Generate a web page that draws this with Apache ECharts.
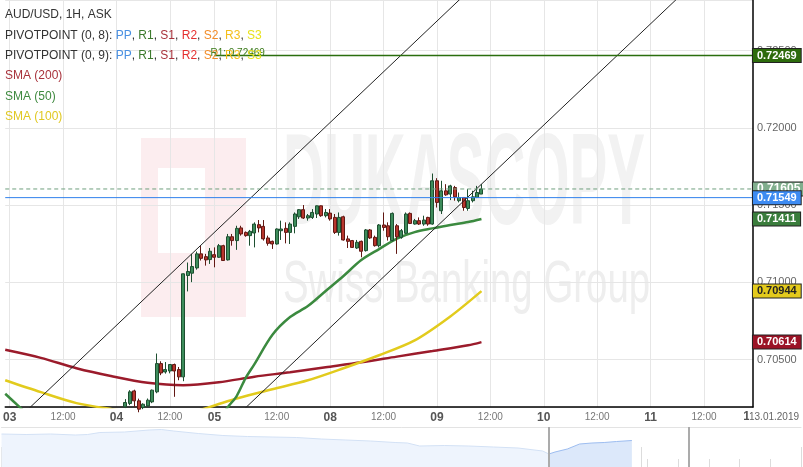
<!DOCTYPE html>
<html><head><meta charset="utf-8">
<script src="https://cdn.jsdelivr.net/npm/echarts@6/dist/echarts.min.js"></script>
<style>html,body{margin:0;padding:0;background:#fff}#c{width:803px;height:467px}</style>
</head><body><div id="c"></div>
<script>
const FONT = '"Liberation Sans", Arial, sans-serif';

// ---- DATA ----
// hourly slots on the time axis (index 0 = last hour of 02.01)
const slotCount = 169;
const dayTicks = [[1,'03'],[25,'04'],[47,'05'],[73,'08'],[97,'09'],[121,'10'],[145,'11']];
const noonTicks = [13,37,61,85,109,133,157];

// visible hourly candles [open, high, low, close], first one at slot 27
const firstCandle = 27;
const candles = [
[0.70195,0.70245,0.70187,0.70223],[0.70217,0.70303,0.70206,0.70292],[0.70298,0.70306,0.70195,0.70234],
[0.70234,0.70248,0.70160,0.70180],[0.70190,0.70218,0.70180,0.70212],[0.70201,0.70249,0.70195,0.70238],
[0.70227,0.70307,0.70219,0.70303],[0.70292,0.70540,0.70283,0.70475],[0.70475,0.70490,0.70400,0.70414],
[0.70421,0.70485,0.70410,0.70436],[0.70427,0.70471,0.70412,0.70469],[0.70469,0.70475,0.70260,0.70427],
[0.70436,0.70453,0.70367,0.70389],[0.70389,0.71058,0.70361,0.71056],[0.71045,0.71129,0.70942,0.71071],
[0.71060,0.71185,0.71002,0.71103],[0.71094,0.71200,0.71083,0.71185],[0.71185,0.71238,0.71142,0.71156],
[0.71167,0.71185,0.71109,0.71146],[0.71148,0.71223,0.71120,0.71202],[0.71180,0.71227,0.71098,0.71163],
[0.71163,0.71249,0.71159,0.71238],[0.71238,0.71244,0.71140,0.71142],[0.71146,0.71314,0.71142,0.71296],
[0.71296,0.71314,0.71238,0.71271],[0.71271,0.71367,0.71211,0.71350],[0.71353,0.71367,0.71303,0.71314],
[0.71324,0.71330,0.71296,0.71303],[0.71303,0.71340,0.71238,0.71331],[0.71320,0.71389,0.71227,0.71378],
[0.71374,0.71404,0.71324,0.71353],[0.71363,0.71404,0.71271,0.71282],[0.71288,0.71303,0.71238,0.71253],
[0.71266,0.71271,0.71217,0.71249],[0.71249,0.71350,0.71245,0.71346],[0.71335,0.71400,0.71275,0.71346],
[0.71350,0.71389,0.71253,0.71324],[0.71324,0.71389,0.71249,0.71378],[0.71363,0.71453,0.71318,0.71443],
[0.71425,0.71475,0.71411,0.71471],[0.71471,0.71501,0.71411,0.71417],[0.71417,0.71443,0.71400,0.71432],
[0.71421,0.71475,0.71411,0.71453],[0.71443,0.71498,0.71417,0.71496],[0.71496,0.71498,0.71425,0.71432],
[0.71432,0.71475,0.71421,0.71453],[0.71449,0.71475,0.71400,0.71411],[0.71421,0.71443,0.71314,0.71324],
[0.71324,0.71453,0.71303,0.71421],[0.71425,0.71432,0.71271,0.71275],[0.71282,0.71303,0.71223,0.71266],
[0.71271,0.71275,0.71223,0.71227],[0.71223,0.71275,0.71217,0.71260],[0.71266,0.71271,0.71163,0.71202],
[0.71206,0.71346,0.71200,0.71340],[0.71340,0.71346,0.71282,0.71288],[0.71292,0.71303,0.71232,0.71238],
[0.71238,0.71378,0.71227,0.71372],[0.71372,0.71453,0.71335,0.71356],[0.71367,0.71389,0.71271,0.71296],
[0.71271,0.71453,0.71266,0.71447],[0.71367,0.71378,0.71185,0.71296],[0.71292,0.71346,0.71283,0.71335],
[0.71318,0.71453,0.71314,0.71443],[0.71447,0.71453,0.71378,0.71382],[0.71378,0.71411,0.71374,0.71400],
[0.71400,0.71421,0.71372,0.71378],[0.71378,0.71432,0.71367,0.71404],[0.71421,0.71425,0.71367,0.71378],
[0.71378,0.71705,0.71374,0.71658],[0.71658,0.71675,0.71485,0.71518],[0.71464,0.71658,0.71443,0.71593],
[0.71593,0.71636,0.71561,0.71567],[0.71572,0.71632,0.71533,0.71625],[0.71614,0.71625,0.71529,0.71554],
[0.71529,0.71582,0.71518,0.71550],[0.71550,0.71550,0.71464,0.71485],[0.71479,0.71604,0.71464,0.71529],
[0.71529,0.71593,0.71518,0.71554],[0.71550,0.71625,0.71546,0.71582],[0.71572,0.71636,0.71572,0.71605]
];

// moving averages [slot, value]
const sma200 = [[0,0.70564],[8,0.70512],[16,0.70445],[24,0.70393],[32,0.70351],[40,0.70335],[48,0.70354],
  [56,0.70390],[64,0.70419],[72,0.70451],[80,0.70483],[88,0.70520],[96,0.70556],[104,0.70593],[107,0.70614]];
const sma100 = [[0,0.70367],[8,0.70290],[16,0.70219],[24,0.70180],[32,0.70150],[40,0.70150],[46,0.70195],
  [52,0.70249],[60,0.70309],[68,0.70367],[76,0.70445],[84,0.70529],[92,0.70625],[100,0.70780],[107,0.70944]];
const sma50 = [[0,0.70280],[3,0.70200],[6,0.70120],[12,0.70000],[44,0.70000],[48,0.70110],[50,0.70193],
  [52,0.70265],[54,0.70381],[56,0.70472],[60,0.70660],[64,0.70776],[68,0.70847],[72,0.70945],[76,0.71042],
  [80,0.71145],[84,0.71216],[88,0.71284],[92,0.71326],[96,0.71350],[100,0.71372],[104,0.71391],[107,0.71411]];

// channel lines [slot, price]
const channelUpper = [[0,0.70039],[110,0.73047]];
const channelLower = [[48,0.70025],[168,0.73302]];

// levels
const pivotR1 = 0.72469, pivotR1Start = 47;
const pivotPP = 0.71549;
const lastPrice = 0.71605;
const priceMin = 0.70194, priceMax = 0.72828;

// navigator overview [position, price]
const navBase = [[0,0.712],[4,0.710],[8,0.712],[12,0.708],[14,0.710],[16,0.718],[20,0.720],[24,0.728],[26,0.730],
  [28,0.724],[32,0.714],[36,0.706],[40,0.702],[44,0.700],[48,0.698],[52,0.692],[56,0.688],[60,0.684],[64,0.678],
  [66,0.676],[68,0.664],[72,0.666],[76,0.664],[80,0.660],[84,0.656],[88,0.644],[89,0.632]];
const navSel = [[89,0.632],[90,0.640],[92,0.652],[94,0.672],[96,0.676],[98,0.678],[100,0.682],[102.5,0.686]];
const navWeekSplits = [89, 111.8];

// ---- CHART ----
const cats = Array.from({length: slotCount}, (_, i) => 'h' + i);
const tickMap = {};
dayTicks.forEach(([i, t]) => tickMap[i] = '{d|' + t + '}');
noonTicks.forEach(i => tickMap[i] = '{n|12:00}');
const isTick = (i) => tickMap[i] !== undefined;
const lastSlot = slotCount - 1;

function tag(value, bg, fg, fs) {
  return {yAxis: value, lineStyle: {color: 'transparent', width: 0},
    label: {show: true, position: 'end', distance: 0, formatter: value.toFixed(5),
      backgroundColor: bg, color: fg, borderColor: '#222', borderWidth: 1,
      padding: [1, 4, 0, 4], fontSize: fs || 11, fontWeight: 'bold', fontFamily: FONT, lineHeight: 12}};
}
function level(value, from, color, type, width) {
  return {type: 'line', data: [[from, value], [lastSlot, value]], showSymbol: false, z: 5,
    lineStyle: {color: color, type: type, width: width}};
}
const last = a => a[a.length - 1][1];
function legendRich() {
  const mk = c => ({fill: c, fontSize: 12, fontFamily: FONT});
  return {t: mk('#333'), pp: mk('#4a90e2'), r1: mk('#3c7a2c'), s1: mk('#a8323b'), r2: mk('#e53030'),
          s2: mk('#f28c28'), r3: mk('#f4be1a'), s3: mk('#e8e21c')};
}

const chart = echarts.init(document.getElementById('c'), null, {renderer: 'canvas'});
chart.setOption({
  animation: false,
  backgroundColor: '#fff',
  textStyle: {fontFamily: FONT},
  grid: [
    {left: -1.2, top: 0, width: 754.15, height: 407},
    {left: 1.5, top: 427, width: 799.5, height: 40}
  ],
  xAxis: [
    {type: 'category', gridIndex: 0, data: cats, boundaryGap: false,
     axisLine: {lineStyle: {color: '#000', width: 1.5}}, axisTick: {show: false},
     axisLabel: {interval: isTick, formatter: (v, i) => tickMap[i] || '', margin: 5,
       rich: {d: {fontSize: 12, fontWeight: 'bold', color: '#555', fontFamily: FONT},
              n: {fontSize: 10, color: '#777', fontFamily: FONT}}},
     splitLine: {show: true, interval: isTick, lineStyle: {color: '#e6e6e6', width: 1}}},
    {type: 'value', gridIndex: 1, min: 0, max: 130, position: 'top',
     axisLine: {show: true, lineStyle: {color: '#e3e3e3'}}, axisTick: {show: false}, axisLabel: {show: false}, splitLine: {show: false}},
    {type: 'value', gridIndex: 1, min: 0, max: 130, interval: 5, position: 'bottom',
     axisLine: {show: false}, axisTick: {show: true, inside: true, length: 8, lineStyle: {color: '#dcdcdc'}},
     axisLabel: {show: false}, splitLine: {show: false}},
    {type: 'value', gridIndex: 1, min: 0, max: 125, interval: 25, position: 'bottom',
     axisLine: {show: false}, axisTick: {show: true, inside: true, length: 20, lineStyle: {color: '#dcdcdc'}},
     axisLabel: {show: false}, splitLine: {show: false}}
  ],
  yAxis: [
    {type: 'value', gridIndex: 0, position: 'right', min: priceMin, max: priceMax, splitNumber: 5,
     axisLine: {show: true, lineStyle: {color: '#000', width: 1.5}}, axisTick: {show: false},
     axisLabel: {formatter: v => v.toFixed(5), color: '#666', fontSize: 11, margin: 4,
       showMinLabel: false, showMaxLabel: false, fontFamily: FONT},
     splitLine: {lineStyle: {color: '#e6e6e6'}}},
    {type: 'value', gridIndex: 1, min: 0.58, max: 0.74, show: false}
  ],
  series: [
    {type: 'line', name: 'SMA (200)', data: sma200, showSymbol: false, smooth: 0.3, z: 2,
     lineStyle: {color: '#9b1b2b', width: 2.5}},
    {type: 'line', name: 'SMA (100)', data: sma100, showSymbol: false, smooth: 0.3, z: 2,
     lineStyle: {color: '#e2cb1d', width: 2.5}},
    {type: 'line', name: 'SMA (50)', data: sma50, showSymbol: false, smooth: 0.3, z: 2,
     lineStyle: {color: '#3b8a3f', width: 2.5}},
    {type: 'line', data: channelUpper, showSymbol: false, z: 4, lineStyle: {color: '#222', width: 1}},
    {type: 'line', data: channelLower, showSymbol: false, z: 4, lineStyle: {color: '#222', width: 1}},
    level(lastPrice, 0, '#6f9f7e', [4, 3], 1),
    level(pivotPP, 0, '#2f80ec', 'solid', 1),
    level(pivotR1, pivotR1Start, '#2b6e0e', 'solid', 1.5),
    {type: 'candlestick', name: 'AUD/USD', z: 3, barWidth: 3.5,
     encode: {x: 0, y: [1, 2, 3, 4]},
     data: candles.map((c, j) => [firstCandle + j, c[0], c[3], c[2], c[1]]),
     itemStyle: {color: '#3d8c5b', borderColor: '#1d4f30', color0: '#b8362d', borderColor0: '#621813', borderWidth: 1}},
    // axis tags and R1 caption
    {type: 'line', name: 'levels', data: [[firstCandle + candles.length - 1, lastPrice]], showSymbol: false,
     clip: false, z: 6, lineStyle: {opacity: 0},
     markLine: {silent: true, symbol: ['none', 'none'], z: 6, precision: 5,
       data: [
         tag(last(sma50), '#3a7d3c', '#fff'),
         tag(last(sma100), '#e3ca1c', '#222'),
         tag(last(sma200), '#9b1326', '#fff'),
         tag(pivotR1, '#2d6b0c', '#fff'),
         tag(lastPrice, '#80ae8d', '#fff', 12),
         tag(pivotPP, '#3d8bf2', '#fff'),
         [{coord: [pivotR1Start, pivotR1], lineStyle: {color: 'transparent', width: 0},
           label: {show: true, position: 'insideStartTop', distance: [-4, -3], formatter: 'R1: ' + pivotR1.toFixed(5),
             color: '#3a7a1a', fontSize: 10, fontFamily: FONT}},
          {coord: [lastSlot, pivotR1]}]
       ]}},
    {type: 'line', xAxisIndex: 1, yAxisIndex: 1, data: navBase, showSymbol: false,
     lineStyle: {color: '#d3e1f5', width: 1}, areaStyle: {color: '#eef4fd', origin: 'start', opacity: 1},
     markLine: {silent: true, symbol: ['none', 'none'], label: {show: false},
       lineStyle: {color: '#ababab', width: 2, type: 'solid'}, data: navWeekSplits.map(v => ({xAxis: v}))}},
    {type: 'line', xAxisIndex: 1, yAxisIndex: 1, data: navSel, showSymbol: false,
     lineStyle: {color: '#9dbdf0', width: 1}, areaStyle: {color: '#dce8fa', origin: 'start', opacity: 1}}
  ],
  graphic: [
    {type: 'rect', z: -100, shape: {x: 141, y: 138, width: 105, height: 179}, style: {fill: '#fcedef'}},
    {type: 'rect', z: -99, shape: {x: 158, y: 168, width: 47, height: 85}, style: {fill: '#fff'}},
    {type: 'text', z: -99, x: 283, y: 188, scaleX: 0.436,
     style: {text: 'DUKASCOPY', font: 'bold 130px ' + FONT, fill: '#f2f2f2', verticalAlign: 'middle'}},
    {type: 'text', z: -99, x: 283, y: 285, scaleX: 0.64,
     style: {text: 'Swiss Banking Group', font: '60px ' + FONT, fill: '#eeeeee', verticalAlign: 'middle'}},
    {type: 'text', z: 100, x: 5, y: 15, style: {text: 'AUD/USD, 1H, ASK', font: '12px ' + FONT, fill: '#333', verticalAlign: 'middle'}},
    {type: 'text', z: 100, x: 5, y: 35.5, style: {verticalAlign: 'middle',
      text: '{t|PIVOTPOINT (0, 8): }{pp|PP}{t|, }{r1|R1}{t|, }{s1|S1}{t|, }{r2|R2}{t|, }{s2|S2}{t|, }{r3|R3}{t|, }{s3|S3}',
      rich: legendRich()}},
    {type: 'text', z: 100, x: 5, y: 55.5, style: {verticalAlign: 'middle',
      text: '{t|PIVOTPOINT (0, 9): }{pp|PP}{t|, }{r1|R1}{t|, }{s1|S1}{t|, }{r2|R2}{t|, }{s2|S2}{t|, }{r3|R3}{t|, }{s3|S3}',
      rich: legendRich()}},
    {type: 'text', z: 100, x: 5, y: 76, style: {text: 'SMA (200)', font: '12px ' + FONT, fill: '#a8323b', verticalAlign: 'middle'}},
    {type: 'text', z: 100, x: 5, y: 96.5, style: {text: 'SMA (50)', font: '12px ' + FONT, fill: '#3f8a3f', verticalAlign: 'middle'}},
    {type: 'text', z: 100, x: 5, y: 116.5, style: {text: 'SMA (100)', font: '12px ' + FONT, fill: '#e0c822', verticalAlign: 'middle'}},
    {type: 'text', z: 100, x: 750, y: 417, style: {text: '12', font: 'bold 12px ' + FONT, fill: '#555', align: 'center', verticalAlign: 'middle'}},
    {type: 'text', z: 101, x: 749, y: 417, style: {text: '13.01.2019', font: '10px ' + FONT, fill: '#666', verticalAlign: 'middle',
      backgroundColor: '#fff', padding: [1, 2, 1, 0]}}
  ]
});
</script></body></html>
